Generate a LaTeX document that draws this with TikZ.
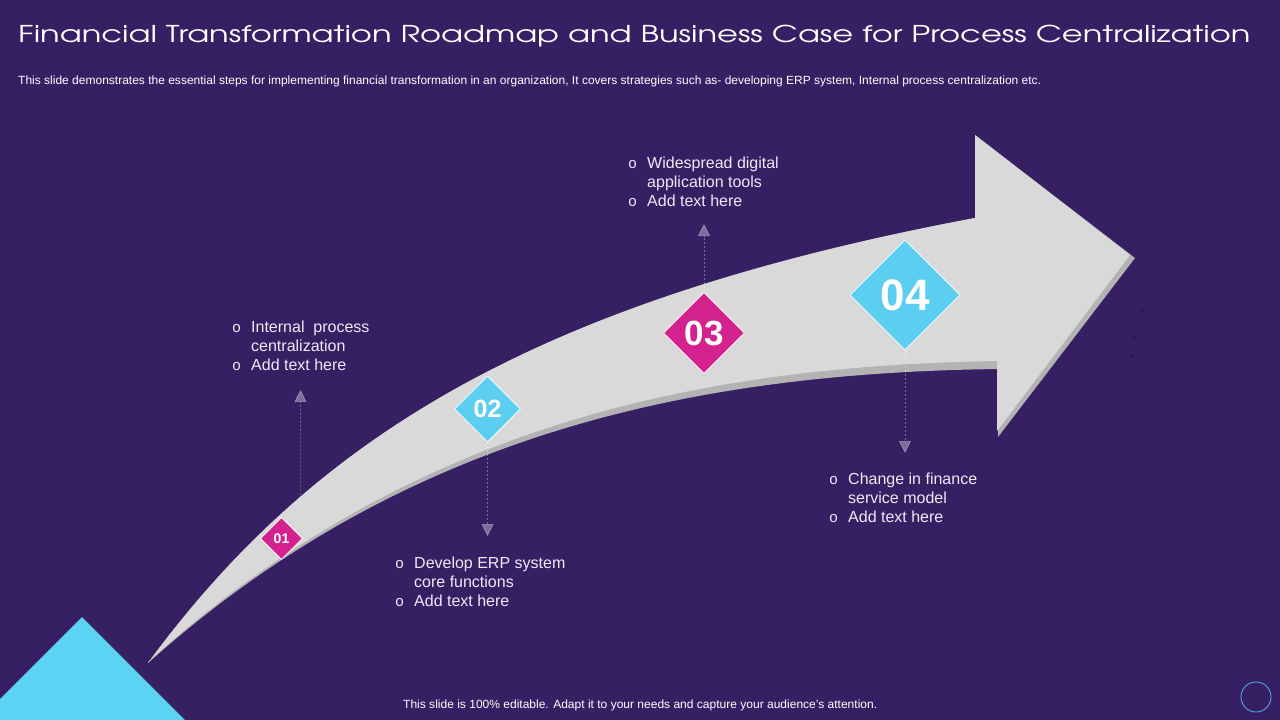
\documentclass[tikz,border=0pt]{standalone}
\usepackage{fontspec}
\setmainfont{Liberation Sans}
\newfontfamily\titlefont{TeX Gyre Adventor}
\newfontfamily\bulfont{Liberation Mono}
\usetikzlibrary{shapes.geometric,arrows.meta}
\definecolor{bgc}{HTML}{371F63}
\definecolor{arrlight}{HTML}{D9D9D9}
\definecolor{arrdark}{HTML}{B3B3B3}
\definecolor{magc}{HTML}{D3228E}
\definecolor{cyanc}{HTML}{5CCFF0}
\definecolor{tric}{HTML}{5DD3F4}
\definecolor{txtc}{HTML}{EFE9F6}
\definecolor{ringc}{HTML}{4FA9E2}
\definecolor{dotc}{HTML}{1C1040}
\newcommand{\bul}{{\bulfont\fontsize{15}{15}\selectfont o}}
\tikzset{
  dia/.style={diamond, aspect=1, inner sep=0pt, draw=white, line width=0.6pt, text=white},
  conn/.style={draw=white, opacity=0.35, line width=0.7pt, dash pattern=on 2pt off 2pt, -{Triangle[width=12pt,length=12pt]}},
  blocktxt/.style={inner sep=0pt, anchor=base west, text=txtc, font=\fontsize{16}{19}\selectfont},
  plaintxt/.style={inner sep=0pt, anchor=base west, text=white}
}
\begin{document}
\begin{tikzpicture}[x=1pt,y=-1pt]
\useasboundingbox (0,0) rectangle (1280,720);
\fill[bgc] (0,0) rectangle (1280,720);
% corner triangle
\fill[tric] (82,617) -- (185,720) -- (0,720) -- (0,699) -- cycle;
% ring bottom right
\draw[ringc, line width=0.9pt] (1256,697) circle (15);
% arrow: dark base then light body
\fill[arrdark] (148,663) .. controls (313,439) and (533,301) .. (975,218) -- (975,135) -- (1135,258) -- (998,437) -- (998,369) .. controls (700,373) and (408,430) .. (148,663) -- cycle;
\fill[arrlight] (148,663) .. controls (313,439) and (533,301) .. (975,218) -- (975,135) -- (1130,255) -- (997,431) -- (997,361) .. controls (700,366) and (410,424) .. (148,662) -- cycle;
% specks near the tip
\fill[dotc] (1148,264) circle (1.1);
\fill[dotc] (1142,311) circle (1.0);
\fill[dotc] (1134,337) circle (1.0);
\fill[dotc] (1132,356) circle (1.0);
% connector ends
\coordinate (e1) at (300.5,390);
\coordinate (e2) at (487.5,536);
\coordinate (e3) at (704,224);
\coordinate (e4) at (905,453);
% diamonds
\node[dia, fill=magc, minimum width=42pt, minimum height=42pt, font=\bfseries\fontsize{14}{14}\selectfont] (d1) at (281.5,538.5) {01};
\node[dia, fill=cyanc, minimum width=66pt, minimum height=66pt, font=\bfseries\fontsize{25}{25}\selectfont] (d2) at (487.5,409) {02};
\node[dia, fill=magc, minimum width=81pt, minimum height=81pt, font=\bfseries\fontsize{35}{35}\selectfont] (d3) at (704,333) {03};
\node[dia, fill=cyanc, minimum width=110pt, minimum height=110pt, font=\bfseries\fontsize{44}{44}\selectfont] (d4) at (905,295) {04};
% connectors
\draw[conn] ([xshift=-2pt,yshift=16pt]d1.east) -- (e1);
\draw[conn] (d2.south) -- (e2);
\draw[conn] (d3.north) -- (e3);
\draw[conn] (d4.south) -- (e4);
% text blocks
\node[blocktxt] (t1) at (232,332) {\begin{tabular}[t]{@{}l@{\hspace{10pt}}l@{}}\bul & Internal\ \ process\\ & centralization\\ \bul & Add text here\end{tabular}};
\node[blocktxt] (t2) at (395,568) {\begin{tabular}[t]{@{}l@{\hspace{10pt}}l@{}}\bul & Develop ERP system\\ & core functions\\ \bul & Add text here\end{tabular}};
\node[blocktxt] (t3) at (628,168) {\begin{tabular}[t]{@{}l@{\hspace{10pt}}l@{}}\bul & Widespread digital\\ & application tools\\ \bul & Add text here\end{tabular}};
\node[blocktxt] (t4) at (829,484) {\begin{tabular}[t]{@{}l@{\hspace{10pt}}l@{}}\bul & Change in finance\\ & service model\\ \bul & Add text here\end{tabular}};
% titles
\node[plaintxt] (title) at (18,42.5) {\resizebox{1232pt}{17.4pt}{\titlefont Financial Transformation Roadmap and Business Case for Process Centralization}};
\node[plaintxt] (sub) at (18,84) {\resizebox{1023pt}{8.6pt}{This slide demonstrates the essential steps for implementing financial transformation in an organization, It covers strategies such as- developing ERP system, Internal process centralization etc.}};
\node[plaintxt] (foot) at (403,708.3) {\resizebox{474pt}{8.6pt}{This slide is 100\% editable. Adapt it to your needs and capture your audience's attention.}};
\end{tikzpicture}
\end{document}
